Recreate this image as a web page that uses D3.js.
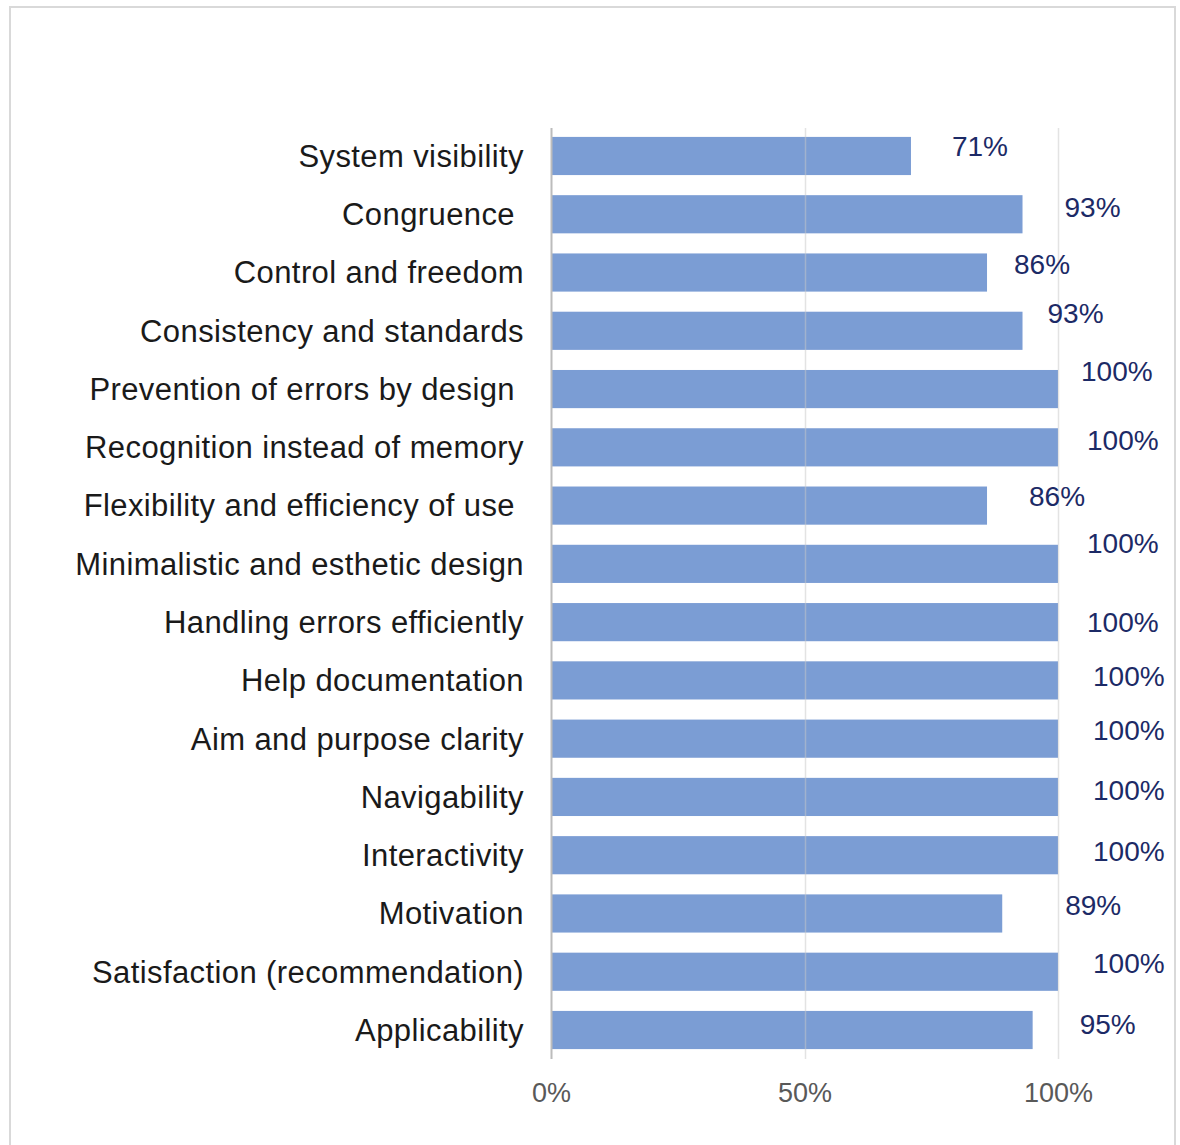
<!DOCTYPE html>
<html>
<head>
<meta charset="utf-8">
<script src="https://cdn.jsdelivr.net/npm/d3@7"></script>
<style>
  html, body { margin: 0; padding: 0; background: #fff; }
  svg { display: block; }
  text { font-family: "Liberation Sans", Arial, sans-serif; }
</style>
</head>
<body>
<svg id="chart" width="1180" height="1145"></svg>
<script>
// Heuristic evaluation criteria and the share of positive ratings
const categories = [
  "System visibility",
  "Congruence\u00a0",
  "Control and freedom",
  "Consistency and standards",
  "Prevention of errors by design\u00a0",
  "Recognition instead of memory",
  "Flexibility and efficiency of use\u00a0",
  "Minimalistic and esthetic design",
  "Handling errors efficiently",
  "Help documentation",
  "Aim and purpose clarity",
  "Navigability",
  "Interactivity",
  "Motivation",
  "Satisfaction (recommendation)",
  "Applicability"
];
const values = [0.71, 0.93, 0.86, 0.93, 1.00, 1.00, 0.86, 1.00, 1.00, 1.00, 1.00, 1.00, 1.00, 0.89, 1.00, 0.95];
const tickValues = [0, 0.5, 1];

// Hand-placed data label nudges (dx from bar end, dy from bar centre)
const labelNudge = [
  [41, -10], [42, -7], [27, -8], [25, -18], [23, -18], [29, -7], [42, -9], [29, -21],
  [29, 0], [35, -4], [35, -8], [35, -7], [35, -4], [63, -8], [35, -9], [47, -6]
];

const svg = d3.select("#chart");

// outer frame
svg.append("path")
  .attr("d", "M10,1150 V7 H1175 V1150")
  .attr("fill", "none")
  .attr("stroke", "#d9d9d9")
  .attr("stroke-width", 2);

const x = d3.scaleLinear().domain([0, 1]).range([551, 1058]);
const y = d3.scaleBand().domain(categories).range([127, 1059]).paddingInner(0.345).paddingOuter(0.17);

// bars
svg.append("g").selectAll("rect")
  .data(values)
  .join("rect")
  .attr("x", x(0))
  .attr("y", (d, i) => y(categories[i]))
  .attr("width", d => x(d) - x(0))
  .attr("height", y.bandwidth())
  .attr("fill", "#7b9dd4");

// vertical gridlines
svg.append("g").selectAll("line")
  .data(tickValues)
  .join("line")
  .attr("x1", d => Math.round(x(d)) + 0.5)
  .attr("x2", d => Math.round(x(d)) + 0.5)
  .attr("y1", 128)
  .attr("y2", 1059)
  .attr("stroke", d => d === 0 ? "#bcbcbc" : "#c8c8c8")
  .attr("stroke-opacity", d => d === 0 ? 1 : 0.5)
  .attr("stroke-width", d => d === 0 ? 2 : 1.5);

// x axis tick labels
const xAxis = d3.axisBottom(x)
  .tickValues(tickValues)
  .tickFormat(d3.format(".0%"))
  .tickSize(0)
  .tickPadding(0);
const gx = svg.append("g").attr("transform", "translate(0,1083)").call(xAxis);
gx.select(".domain").remove();
gx.selectAll("text")
  .attr("font-size", 27)
  .attr("fill", "#595959")
  .attr("font-family", "Liberation Sans, Arial, sans-serif");

// category labels
svg.append("g").selectAll("text")
  .data(categories)
  .join("text")
  .attr("x", 524)
  .attr("y", d => y(d) + y.bandwidth() / 2)
  .attr("dy", "0.35em")
  .attr("text-anchor", "end")
  .attr("font-size", 31)
  .attr("letter-spacing", 0.4)
  .attr("fill", "#1a1a1a")
  .text(d => d);

// data labels
svg.append("g").selectAll("text")
  .data(values)
  .join("text")
  .attr("x", (d, i) => x(d) + labelNudge[i][0])
  .attr("y", (d, i) => y(categories[i]) + y.bandwidth() / 2 + labelNudge[i][1])
  .attr("dy", "0.35em")
  .attr("font-size", 28)
  .attr("fill", "#1c2a66")
  .text(d => d3.format(".0%")(d));
</script>
</body>
</html>
